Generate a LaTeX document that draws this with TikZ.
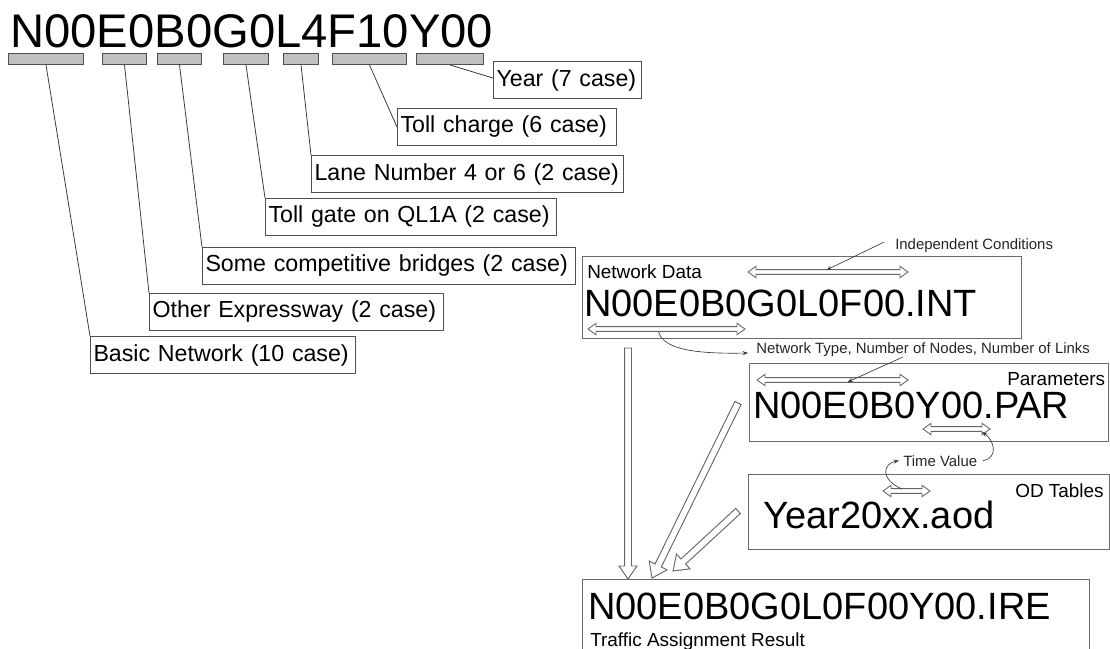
\documentclass[tikz,border=0pt]{standalone}
\usepackage{fontspec}
\setmainfont{Liberation Sans}
\usetikzlibrary{calc,arrows.meta}
\definecolor{linec}{HTML}{3C3C3C}
\definecolor{boxc}{HTML}{505050}
\definecolor{panelc}{HTML}{6A6A6A}
\definecolor{barfill}{HTML}{C0C0C0}
\definecolor{arrc}{HTML}{666666}
\newcommand\hollowarrow[5]{%
  \path ($(#2)!#5!(#1)$) coordinate (hbase);
  \draw[hollow] ($(#1)!#3!90:(#2)$) -- ($(hbase)!#3!90:(#2)$) -- ($(hbase)!#4!90:(#2)$) -- (#2)
    -- ($(hbase)!#4!-90:(#2)$) -- ($(hbase)!#3!-90:(#2)$) -- ($(#1)!#3!-90:(#2)$) -- cycle;}
\newcommand\dblarrow[2]{%
  \path ($(#1)!6pt!(#2)$) coordinate (dA) ($(#2)!6pt!(#1)$) coordinate (dB);
  \draw[dbl] (#1) -- ($(dA)!4.3pt!90:(#2)$) -- ($(dA)!1.8pt!90:(#2)$) -- ($(dB)!1.8pt!-90:(#1)$)
    -- ($(dB)!4.3pt!-90:(#1)$) -- (#2) -- ($(dB)!4.3pt!90:(#1)$) -- ($(dB)!1.8pt!90:(#1)$)
    -- ($(dA)!1.8pt!-90:(#2)$) -- ($(dA)!4.3pt!-90:(#2)$) -- cycle;}
\begin{document}
\begin{tikzpicture}[x=0.75pt,y=-0.75pt,
  bar/.style={draw=boxc, fill=barfill, line width=0.75pt, anchor=north west, inner sep=0, minimum height=8.25pt},
  casebox/.style={draw=boxc, line width=0.75pt, anchor=north west, inner xsep=2.25pt, inner ysep=0,
    minimum height=27.75pt, align=left, font=\fontsize{17.4}{20}\selectfont},
  leader/.style={draw=linec, line width=0.6pt},
  panel/.style={draw=panelc, line width=0.75pt, anchor=north west, inner sep=0},
  lab/.style={anchor=base west, inner sep=0, font=\fontsize{14.2}{16}\selectfont},
  bigname/.style={anchor=base west, inner sep=0, font=\fontsize{28.5}{32}\selectfont},
  note/.style={anchor=base west, inner sep=0, font=\fontsize{11.2}{13}\selectfont, text=black!85},
  pointer/.style={draw=linec, line width=0.5pt, -{Stealth[length=4pt,width=3pt]}},
  hollow/.style={draw=arrc, fill=white, line width=0.7pt, line join=miter},
  dbl/.style={draw=arrc, fill=white, line width=0.65pt, line join=miter}]
\useasboundingbox (0,0) rectangle (1110,649);
\begin{scope}
\clip (0,0) rectangle (1110,649);
% title and code bars
\node[anchor=base west, inner sep=0, font=\fontsize{35.4}{40}\selectfont] (title) at (10,47.5) {N00E0B0G0L4F10Y00};
\node[bar, minimum width=56.25pt] (bar1) at (8,53) {};
\node[bar, minimum width=33pt] (bar2) at (102,53) {};
\node[bar, minimum width=33pt] (bar3) at (157,53) {};
\node[bar, minimum width=33.75pt] (bar4) at (223,53) {};
\node[bar, minimum width=26.25pt] (bar5) at (283,53) {};
\node[bar, minimum width=55.5pt] (bar6) at (332,53) {};
\node[bar, minimum width=50.25pt] (bar7) at (416,53) {};
% case boxes
\node[casebox, text width=106.5pt] (year) at (493,61) {Year (7 case)};
\node[casebox, text width=159.75pt] (toll) at (397,108) {Toll charge (6 case)};
\node[casebox, text width=229.5pt] (lane) at (311,155) {Lane Number 4 or 6 (2 case)};
\node[casebox, text width=213.75pt] (gate) at (265,198) {Toll gate on QL1A (2 case)};
\node[casebox, text width=275.25pt] (bridge) at (202,247) {Some competitive bridges (2 case)};
\node[casebox, text width=216pt] (other) at (149,293) {Other Expressway (2 case)};
\node[casebox, text width=194.25pt] (basic) at (90,336) {Basic Network (10 case)};
\draw[leader] (bar1.south) -- (basic.north west);
\draw[leader] (bar2.south) -- (other.north west);
\draw[leader] (bar3.south) -- (bridge.north west);
\draw[leader] (bar4.south) -- (gate.north west);
\draw[leader] (bar5.south) -- (lane.north west);
\draw[leader] (bar6.south) -- (toll.west);
\draw[leader] (bar7.south) -- ($(year.west)+(0,-2)$);
% right panels
\node[panel, minimum width=329.25pt, minimum height=61.5pt] (netdata) at (582,256) {};
\node[panel, minimum width=269.25pt, minimum height=58.5pt] (parbox) at (749,363) {};
\node[panel, minimum width=270.75pt, minimum height=56.25pt] (odbox) at (748,474) {};
\node[panel, minimum width=380.25pt, minimum height=75pt] (irebox) at (582,579) {};
\node[lab] (ndlab) at (587,278) {Network Data};
\node[bigname] (intname) at (584,316) {N00E0B0G0L0F00.INT};
\node[note] (ic) at (895,249) {Independent Conditions};
\node[note] (nt) at (756,353) {Network Type, Number of Nodes, Number of Links};
\node[lab] (parlab) at (1007,385) {Parameters};
\node[bigname] (parname) at (753,418) {N00E0B0Y00.PAR};
\node[note] (tv) at (903,466) {Time Value};
\node[lab] (odlab) at (1015,497) {OD Tables};
\node[bigname] (odname) at (763,528) {Year20xx.aod};
\node[bigname] (irename) at (588,619) {N00E0B0G0L0F00Y00.IRE};
\node[lab] (irelab) at (590,646) {Traffic Assignment Result};
% double-headed markers
\coordinate (ic1) at (748,272); \coordinate (ic2) at (908,272);
\coordinate (nt1) at (588,329); \coordinate (nt2) at (745,329);
\coordinate (pa1) at (757,380); \coordinate (pa2) at (908,380);
\coordinate (pb1) at (923,429); \coordinate (pb2) at (990,429);
\coordinate (od1) at (883,491); \coordinate (od2) at (930,491);
\dblarrow{ic1}{ic2}
\dblarrow{nt1}{nt2}
\dblarrow{pa1}{pa2}
\dblarrow{pb1}{pb2}
\dblarrow{od1}{od2}
% annotation pointers
\draw[pointer] ($(ic.west)+(-11,-3)$) -- ($(ic1)!0.49!(ic2)+(0,-2)$);
\draw[pointer] ($(nt1)!0.45!(nt2)+(0,3)$) .. controls +(5,18) and +(-50,1) .. ($(nt.base west)+(-8,0)$);
\draw[pointer] ($(nt.base west)+(147,4)$) -- ($(pa1)!0.6!(pa2)+(0,2)$);
\draw[pointer] ($(tv.west)+(80,0)$) .. controls +(16,-3) and +(12,8) .. ($(pb1)!0.88!(pb2)+(0,3)$);
\draw[pointer] ($(od1)!0.4!(od2)+(0,-2)$) .. controls +(-22,-10) and +(-16,3) .. ($(tv.west)+(-4,0)$);
% big hollow arrows
\coordinate (a1s) at ($(netdata.south west)+(46,9)$);
\coordinate (a1e) at ($(irebox.north west)+(46,0)$);
\coordinate (a2s) at ($(parbox.north west)+(-11,40)$);
\coordinate (a2e) at ($(irebox.north west)+(70,-1)$);
\coordinate (a3s) at ($(odbox.north west)+(-10,37)$);
\coordinate (a3e) at ($(irebox.north west)+(91,-8)$);
\hollowarrow{a1s}{a1e}{2.6pt}{6.75pt}{9.75pt}
\hollowarrow{a2s}{a2e}{2.6pt}{7.5pt}{10.5pt}
\hollowarrow{a3s}{a3e}{2.6pt}{7.5pt}{10.5pt}
\end{scope}
\end{tikzpicture}
\end{document}
